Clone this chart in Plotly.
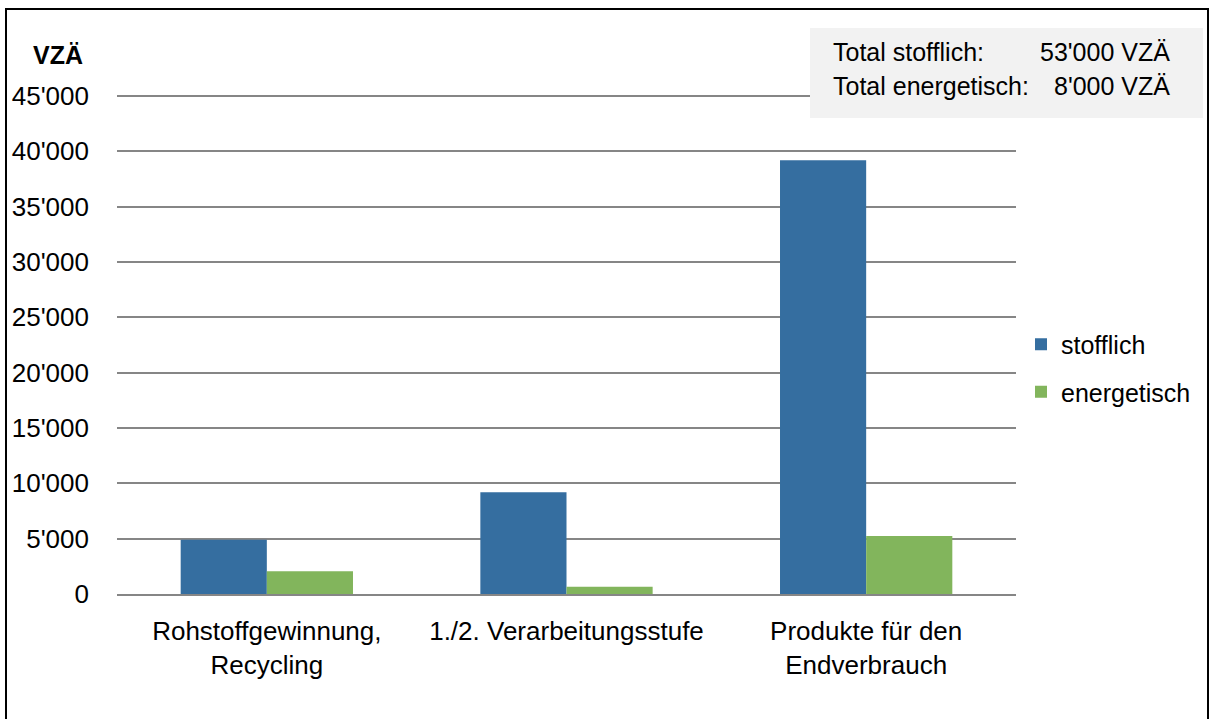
import plotly.graph_objects as go

categories = ["Rohstoffgewinnung,<br>Recycling", "1./2. Verarbeitungsstufe", "Produkte für den<br>Endverbrauch"]
stofflich = [4900, 9200, 39200]
energetisch = [2050, 650, 5250]
y_ticks = [0, 5000, 10000, 15000, 20000, 25000, 30000, 35000, 40000, 45000]
y_ticktext = ["0", "5'000", "10'000", "15'000", "20'000", "25'000", "30'000", "35'000", "40'000", "45'000"]
summary_labels = ["Total stofflich:", "Total energetisch:"]
summary_values = ["53'000 VZÄ", "8'000 VZÄ"]

W, H = 1209, 719
L, R, T, B = 117, 1016, 94, 594
Y0_PX, Y45_PX = 594, 96
YMAX = 45000 * (B - T) / (Y0_PX - Y45_PX)
FONT = "Liberation Sans, Arial, sans-serif"
FS = 26

def px(x):
    return (x - L) / (R - L)

def py(y):
    return (B - y) / (B - T)

fig = go.Figure()
fig.add_trace(go.Bar(x=categories, y=stofflich, name="stofflich",
                     marker=dict(color="#356EA0", line=dict(width=0)), legendgroup="a"))
fig.add_trace(go.Bar(x=categories, y=energetisch, name="energetisch",
                     marker=dict(color="#82B55C", line=dict(width=0)), legendgroup="b"))

fig.update_layout(
    width=W, height=H,
    margin=dict(l=L, r=W - R, t=T, b=H - B, pad=0),
    paper_bgcolor="white", plot_bgcolor="white",
    font=dict(family=FONT, size=FS, color="black"),
    barmode="group", bargap=0.425, bargroupgap=0,
    showlegend=True,
    legend=dict(x=px(1021), xanchor="left", y=py(368), yanchor="middle",
                font=dict(size=FS - 1), tracegroupgap=12, traceorder="grouped",
                bgcolor="rgba(0,0,0,0)", itemwidth=30),
)
fig.update_yaxes(range=[0, YMAX], tickvals=y_ticks, ticktext=y_ticktext,
                 showgrid=True, gridcolor="#868686", gridwidth=1.5,
                 zeroline=False, showline=False, ticks="",
                 ticklabelstandoff=27, tickfont=dict(size=FS))
fig.update_xaxes(showgrid=False, showline=True, linecolor="#868686", linewidth=1.5,
                 ticks="", ticklabelstandoff=13, tickfont=dict(size=FS))

# outer border
fig.add_shape(type="rect", xref="paper", yref="paper",
              x0=px(6), x1=px(1208), y0=py(740), y1=py(9),
              line=dict(color="black", width=2), fillcolor="rgba(0,0,0,0)", layer="above")
# summary box
fig.add_shape(type="rect", xref="paper", yref="paper",
              x0=px(810), x1=px(1203), y0=py(118), y1=py(28),
              line=dict(width=0), fillcolor="#F2F2F2", layer="above")

for i, (lab, val) in enumerate(zip(summary_labels, summary_values)):
    yy = py(52 + i * 34)
    fig.add_annotation(xref="paper", yref="paper", x=px(831), y=yy, text=lab,
                       showarrow=False, xanchor="left", yanchor="middle",
                       font=dict(size=FS - 1))
    fig.add_annotation(xref="paper", yref="paper", x=px(1172), y=yy, text=val,
                       showarrow=False, xanchor="right", yanchor="middle",
                       font=dict(size=FS - 1))

fig.add_annotation(xref="paper", yref="paper", x=px(58), y=py(55), text="<b>VZÄ</b>",
                   showarrow=False, xanchor="center", yanchor="middle",
                   font=dict(size=FS - 1))

fig.write_html("out.html")
